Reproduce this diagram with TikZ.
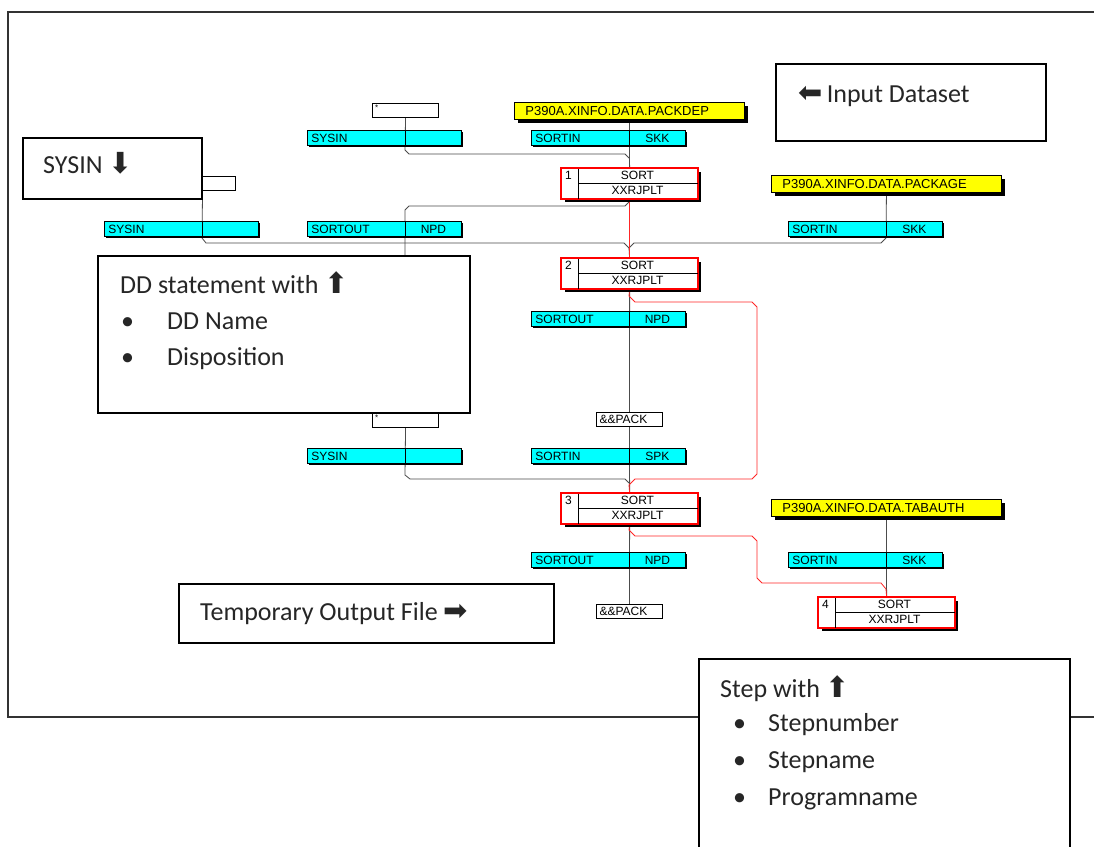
\documentclass[tikz,border=0pt]{standalone}
\usepackage{fontspec}
\setmainfont{Liberation Sans}
\newfontfamily\legfont{Carlito}
\newfontfamily\symfont{DejaVu Sans}
\usetikzlibrary{calc}
\pgfdeclarelayer{back}
\pgfdeclarelayer{lines}
\pgfsetlayers{back,lines,main}
\definecolor{ddcyan}{RGB}{0,255,255}
\definecolor{dsyellow}{RGB}{255,255,0}
\newcommand\arr[1]{{\symfont\fontsize{29}{29}\selectfont #1}}
\tikzset{
  ddb/.style={anchor=north west, draw=black, line width=0.9pt, fill=ddcyan, text width=154pt, minimum height=15pt, inner xsep=0pt, inner ysep=0pt, align=left, font=\fontsize{12}{12}\selectfont},
  dsb/.style={anchor=north west, draw=black, line width=0.9pt, fill=dsyellow, text width=230pt, minimum height=17pt, inner xsep=0pt, inner ysep=0pt, align=left, font=\fontsize{13}{13}\selectfont},
  stepb/.style={anchor=north west, draw=red, line width=1.2pt, fill=white, minimum width=136pt, minimum height=30pt, inner sep=0pt},
  tmpb/.style={anchor=north west, draw=black, line width=1.1pt, fill=white, text width=66pt, minimum height=14pt, inner xsep=0pt, inner ysep=0pt, align=left, font=\fontsize{12}{12}\selectfont},
  lbl/.style={inner sep=0pt, font=\fontsize{12}{12}\selectfont},
  legb/.style={anchor=north west, draw=black, line width=2.4pt, fill=white, inner sep=0pt},
  legt/.style={anchor=base west, inner sep=0pt, text=black!85, font=\legfont\fontsize{26}{30}\selectfont},
  conn/.style={draw=black!70, line width=0.8pt},
  rconn/.style={draw=red!85, line width=0.8pt},
}
\newcommand\ddbox[5]{%
  \fill[black] ($(#2,#3)+(1.6,1.6)$) rectangle ++(154,15);
  \node[ddb] (#1) at (#2,#3) {\hspace*{4pt}\makebox[94pt][l]{#4}\makebox[56pt][c]{#5}};
  \draw[line width=0.9pt] ($(#1.north west)+(98,0)$) -- ($(#1.south west)+(98,0)$);
}
\newcommand\dsbox[4]{%
  \fill[black] ($(#2,#3)+(4,4)$) rectangle ++(230,17);
  \node[dsb] (#1) at (#2,#3) {\hspace*{11pt}#4};
}
\newcommand\stepbx[4]{%
  \fill[black] ($(#2,#3)+(4,4)$) rectangle ++(136,30);
  \node[stepb] (#1) at (#2,#3) {};
  \draw[line width=0.8pt] ($(#1.north west)+(17,0)$) -- ($(#1.south west)+(17,0)$);
  \draw[line width=0.8pt] ($(#1.north west)+(17,15)$) -- ($(#1.north east)+(0,15)$);
  \node[lbl, anchor=north west] (#1n) at ($(#1.north west)+(4,3)$) {#4};
  \node[lbl] (#1a) at ($(#1.north west)+(76.5,7.5)$) {SORT};
  \node[lbl] (#1b) at ($(#1.north west)+(76.5,22.5)$) {XXRJPLT};
  \draw[red, line width=1.2pt] (#1.north west) rectangle (#1.south east);
}
\newcommand\starbox[3]{%
  \node[tmpb] (#1) at (#2,#3) {};
  \node[inner sep=0pt, anchor=north west, font=\fontsize{8}{8}\selectfont] (#1t) at ($(#1.north west)+(3,2)$) {*};
}
\begin{document}
\begin{tikzpicture}[x=1pt,y=-1pt]
\useasboundingbox (0,0) rectangle (1094,846);
\clip (0,0) rectangle (1094,846);
\begin{pgfonlayer}{back}
\fill[white] (0,0) rectangle (1094,846);
\draw[black!80, line width=1.5pt] (8,12) rectangle (1120,717);
\end{pgfonlayer}
% datasets
\dsbox{ds1}{514}{102}{P390A.XINFO.DATA.PACKDEP}
\dsbox{ds2}{771}{175}{P390A.XINFO.DATA.PACKAGE}
\dsbox{ds3}{771}{499}{P390A.XINFO.DATA.TABAUTH}
% DD boxes
\ddbox{ddA1}{307}{130}{SYSIN}{}
\ddbox{ddB1}{531}{130}{SORTIN}{SKK}
\ddbox{ddD}{104}{221}{SYSIN}{}
\ddbox{ddA2}{307}{221}{SORTOUT}{NPD}
\ddbox{ddC1}{788}{221}{SORTIN}{SKK}
\ddbox{ddB2}{531}{311}{SORTOUT}{NPD}
\ddbox{ddA3}{307}{448}{SYSIN}{}
\ddbox{ddB3}{531}{448}{SORTIN}{SPK}
\ddbox{ddB4}{531}{552}{SORTOUT}{NPD}
\ddbox{ddC2}{788}{552}{SORTIN}{SKK}
% small boxes
\starbox{star1}{372}{103}
\starbox{star2}{169}{176}
\starbox{star3}{372}{413}
\node[tmpb] (pack1) at (596,412) {\hspace*{3pt}\&\&PACK};
\node[tmpb] (pack2) at (596,604) {\hspace*{3pt}\&\&PACK};
% steps
\stepbx{st1}{561}{168}{1}
\stepbx{st2}{561}{258}{2}
\stepbx{st3}{561}{493}{3}
\stepbx{st4}{818}{597}{4}
% merge points
\coordinate (m1) at (629,158);
\coordinate (m2) at (629,248);
\coordinate (m3) at (629,483);
\coordinate (h1) at (405,300);
\begin{pgfonlayer}{lines}
\draw[conn] (ds1.south) -- (st1.north);
\draw[conn] (star1.south) -- (405,150) -- (409,154) -- (625,154) -- (m1);
\draw[conn] (st1.south) -- (629,202) -- (625,206) -- (409,206) -- (405,210) -- (h1);
\draw[conn] (star2.south) -- (202,238) -- (206,243) -- (624,243) -- (m2);
\draw[conn] (ds2.south) -- (886,238) -- (881,243) -- (634,243) -- (m2);
\draw[conn] (m2) -- (st2.north);
\draw[conn] (st2.south) -- (pack1.north);
\draw[conn] (pack1.south) -- (st3.north);
\draw[conn] (star3.south) -- (405,475) -- (410,479) -- (625,479) -- (m3);
\draw[conn] (st3.south) -- (pack2.north);
\draw[conn] (ds3.south) -- (st4.north);
\draw[rconn] (st1.south) -- (st2.north);
\draw[rconn] (st2.south) -- (629,296) -- (635,302) -- (752,302) -- (757,307) -- (757,474) -- (752,479) -- (635,479) -- (629,485) -- (st3.north);
\draw[rconn] (st3.south) -- (629,530) -- (635,536) -- (752,536) -- (757,541) -- (757,578) -- (762,583) -- (881,583) -- (886,589) -- (st4.north);
\end{pgfonlayer}
% legends
\node[legb, minimum width=179pt, minimum height=61pt] (L1) at (22,137) {};
\node[legt] (L1t) at (43,173) {SYSIN \arr{⬇}};
\node[legb, minimum width=270pt, minimum height=77pt] (L2) at (775,63) {};
\node[legt] (L2t) at (798,102) {\arr{⬅}\,Input Dataset};
\node[legb, minimum width=372pt, minimum height=157pt] (L3) at (97,255) {};
\node[legt] (L3t) at (120,293) {DD statement with \arr{⬆}};
\node[legt] (L3a) at (121,329) {\makebox[46pt][l]{•}DD Name};
\node[legt] (L3b) at (121,365) {\makebox[46pt][l]{•}Disposition};
\node[legb, minimum width=375pt, minimum height=59pt] (L4) at (178,583) {};
\node[legt] (L4t) at (200,620) {Temporary Output File \arr{➡}};
\node[legb, minimum width=371pt, minimum height=200pt] (L5) at (698,658) {};
\node[legt] (L5t) at (720,697) {Step with \arr{⬆}};
\node[legt] (L5a) at (733,731) {\makebox[35pt][l]{•}Stepnumber};
\node[legt] (L5b) at (733,768) {\makebox[35pt][l]{•}Stepname};
\node[legt] (L5c) at (733,805) {\makebox[35pt][l]{•}Programname};
\end{tikzpicture}
\end{document}
